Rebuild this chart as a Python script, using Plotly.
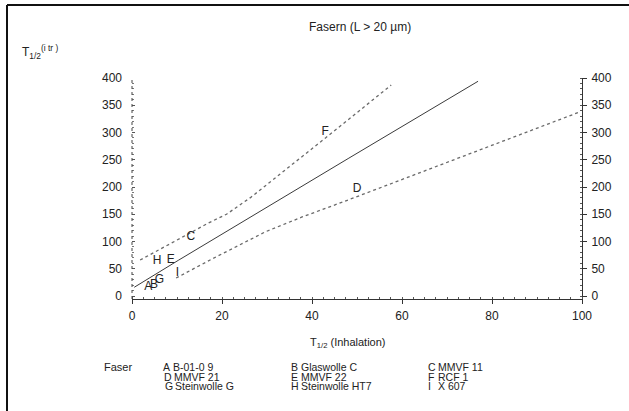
import plotly.graph_objects as go

# Regression line and band
fit_x = [0.5, 10.4, 48.2, 76.9]
fit_y = [16, 66, 253, 394]

upper_x = [1.8, 17, 21, 26.4, 43, 48.2, 53.4, 57.6]
upper_y = [66, 134, 150, 181, 290, 325, 360, 387]

lower_x = [9.8, 17.8, 29.7, 37.8, 47, 55, 63.3, 77.3, 99.6]
lower_y = [33, 68, 118, 145, 173, 198, 224, 268, 338]

# Fibre codes and their half-times (inhalation vs. intratracheal)
fibre_codes = ["A", "B", "C", "D", "E", "F", "G", "H", "I"]
fibre_names = ["B-01-0 9", "Glaswolle C", "MMVF 11", "MMVF 21", "MMVF 22",
               "RCF 1", "Steinwolle G", "Steinwolle HT7", "X 607"]
t_inh = [3.6, 4.9, 13.1, 50.0, 8.6, 42.9, 6.1, 5.6, 10.1]
t_itr = [16, 20, 108, 196, 66, 301, 29, 64, 42]

y_ticks = [0, 50, 100, 150, 200, 250, 300, 350, 400]
x_ticks = [0, 20, 40, 60, 80, 100]

FONT = "Liberation Sans, Arial, sans-serif"
INK = "#222222"

# Plot area in pixels: x 132..582, y 78..299 of a 629x411 canvas
L, R, T, B = 132, 582, 78, 299
W, H = 629, 411


def px(x):
    return (x - L) / (R - L)


def py(y):
    return (B - y) / (B - T)


fig = go.Figure()

fig.add_trace(go.Scatter(x=upper_x, y=upper_y, mode="lines",
                         line=dict(color="#6a6a6a", width=1.3, dash="dot"),
                         hoverinfo="skip", showlegend=False))
fig.add_trace(go.Scatter(x=lower_x, y=lower_y, mode="lines",
                         line=dict(color="#6a6a6a", width=1.3, dash="dot"),
                         hoverinfo="skip", showlegend=False))
fig.add_trace(go.Scatter(x=fit_x, y=fit_y, mode="lines",
                         line=dict(color="#3a3a3a", width=1),
                         hoverinfo="skip", showlegend=False))
fig.add_trace(go.Scatter(x=t_inh, y=t_itr, mode="text", text=fibre_codes,
                         textposition="middle center",
                         textfont=dict(family=FONT, size=12, color=INK),
                         hoverinfo="skip", showlegend=False))
# carries the right-hand axis
fig.add_trace(go.Scatter(x=[0], y=[0], yaxis="y2", mode="markers",
                         marker=dict(opacity=0), hoverinfo="skip",
                         showlegend=False))

yrange = [-5.5, 400]

fig.update_layout(
    width=W, height=H,
    margin=dict(l=L, r=W - R, t=T, b=H - B),
    paper_bgcolor="white", plot_bgcolor="white",
    font=dict(family=FONT, size=12, color=INK),
    xaxis=dict(range=[0, 100], tickvals=x_ticks, showgrid=False, zeroline=False,
               showline=True, linecolor="#333333", linewidth=1,
               ticks="outside", ticklen=4, tickcolor="#333333",
               minor=dict(ticks="inside", dtick=2.5, ticklen=2,
                          tickcolor="#555555"),
               tickfont=dict(size=12), ticklabelstandoff=2),
    yaxis=dict(range=yrange, tickvals=y_ticks, showgrid=False, zeroline=False,
               showline=False, ticks="inside", ticklen=3, tickcolor="#555555",
               minor=dict(ticks="inside", dtick=10, ticklen=2,
                          tickcolor="#777777"),
               tickfont=dict(size=12), ticklabelstandoff=9),
    yaxis2=dict(range=yrange, tickvals=y_ticks, overlaying="y", side="right",
                showgrid=False, zeroline=False, showline=True,
                linecolor="#333333", linewidth=1,
                ticks="outside", ticklen=4, tickcolor="#333333",
                minor=dict(ticks="inside", dtick=10, ticklen=2,
                           tickcolor="#555555"),
                tickfont=dict(size=12), ticklabelstandoff=2),
)

# dotted left axis
fig.add_shape(type="line", xref="paper", yref="paper", x0=0, x1=0,
              y0=0, y1=1, line=dict(color="#444444", width=1, dash="dot"))

# page frame
fig.add_shape(type="line", xref="paper", yref="paper",
              x0=px(7), x1=px(7), y0=py(420), y1=py(5),
              line=dict(color="#111111", width=2))
fig.add_shape(type="line", xref="paper", yref="paper",
              x0=px(7), x1=px(640), y0=py(5), y1=py(5),
              line=dict(color="#111111", width=2))

ann = []
ann.append(dict(text="Fasern (L &gt; 20 µm)", x=px(360), y=py(27),
                xanchor="center", yanchor="middle", font=dict(size=12)))
ann.append(dict(text="T<sub>1/2</sub><sup>(i tr )</sup>", x=px(21), y=py(52),
                xanchor="left", yanchor="middle", font=dict(size=12)))
ann.append(dict(text="T<sub>1/2</sub> (Inhalation)", x=px(348), y=py(343),
                xanchor="center", yanchor="middle", font=dict(size=11)))
ann.append(dict(text="Faser", x=px(103), y=py(367), xanchor="left",
                yanchor="middle", font=dict(size=11)))

col_x = [162, 290, 427]
row_y = [367, 376.5, 386]
for i, (code, name) in enumerate(zip(fibre_codes, fibre_names)):
    row, col = divmod(i, 3)
    x0 = col_x[col] + (row if col == 0 else 0)
    ann.append(dict(text=code, x=px(x0), y=py(row_y[row]), xanchor="left",
                    yanchor="middle", font=dict(size=10.5)))
    ann.append(dict(text=name, x=px(x0 + 10), y=py(row_y[row]),
                    xanchor="left", yanchor="middle", font=dict(size=10.5)))

for a in ann:
    a.update(xref="paper", yref="paper", showarrow=False, borderpad=0)
fig.update_layout(annotations=ann)

fig.write_html("out.html")
